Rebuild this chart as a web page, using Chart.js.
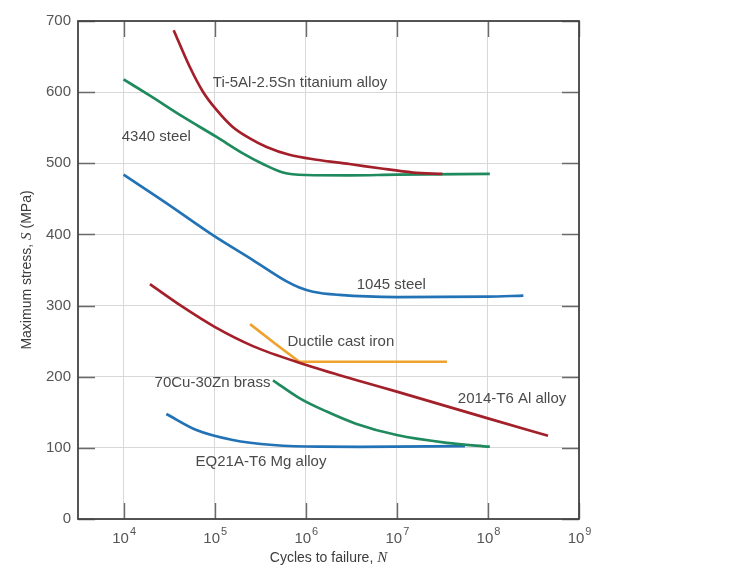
<!DOCTYPE html>
<html>
<head>
<meta charset="utf-8">
<title>S-N curves</title>
<script src="https://cdn.jsdelivr.net/npm/chart.js@4.4.1/dist/chart.umd.min.js"></script>
<style>
  body { margin: 0; background: #fff; }
  #wrap { width: 746px; height: 575px; }
</style>
</head>
<body>
<div id="wrap"><canvas id="mycanvas" width="746" height="575"></canvas></div>
<script>
// cycles to failure (N) and max stress (MPa)
var tiN = [35500, 53100, 74100, 105000, 158000, 243000, 372000, 661000, 1320000, 3020000, 6460000, 15100000, 31600000];
var tiS = [687, 636, 601, 575, 551, 535, 523, 512, 505, 499, 493, 487, 485];

var s4340N = [10000, 19500, 44700, 105000, 204000, 339000, 562000, 1000000, 3020000, 10000000, 105000000];
var s4340S = [618, 595, 565.5, 537, 514, 499, 487, 483.5, 483, 484, 485];

var s1045N = [10000, 29500, 95500, 263000, 617000, 851000, 1200000, 2340000, 10000000, 98000000, 245000000];
var s1045S = [484, 444, 399, 364, 334, 325.5, 319.5, 315, 312, 312.5, 314];

var alN = [19500, 44700, 100000, 263000, 933000, 3890000, 10000000, 100000000, 457000000];
var alS = [330, 298, 270, 243, 218, 194, 179, 141.5, 117];

var ironN = [245000, 479000, 851000, 35500000];
var ironS = [274, 245, 221, 221];

var brassN = [437000, 851000, 1700000, 3550000, 10000000, 35500000, 105000000];
var brassS = [195, 170, 151, 134, 118, 107, 101.6];

var mgN = [29500, 63000, 158000, 437000, 1410000, 3900000, 56000000];
var mgS = [147.6, 125, 111, 104, 101.6, 101.5, 102.5];

// tick values
var xTicks = [1e4, 1e5, 1e6, 1e7, 1e8, 1e9];

// curve labels, anchored in data units (left edge, middle)
var labelText = ['Ti-5Al-2.5Sn titanium alloy', '4340 steel', '1045 steel', 'Ductile cast iron',
                 '70Cu-30Zn brass', 'EQ21A-T6 Mg alloy', '2014-T6 Al alloy'];
var labelN = [95500, 9550, 3630000, 631000, 21900, 61700, 46800000];
var labelS = [613, 537, 329, 249, 191, 80, 169];

var RED = '#a3202a', GREEN = '#1f8a5e', BLUE = '#2272b6', ORANGE = '#f0a22e';

function pts(xs, ys) {
	var out = [];
	for (var i in xs) out.push({ x: xs[i], y: ys[i] });
	return out;
}

function line(label, xs, ys, color, straight) {
	return {
		label: label,
		data: pts(xs, ys),
		borderColor: color,
		borderWidth: 2.7,
		pointRadius: 0,
		fill: false,
		cubicInterpolationMode: straight ? 'default' : 'monotone',
		tension: 0
	};
}

var FONT = '"Liberation Sans", Arial, sans-serif';

var framePlugin = {
	id: 'frame',
	beforeDatasetsDraw: function(chart) {
		var ctx = chart.ctx, a = chart.chartArea;
		var xs = chart.scales.x, ys = chart.scales.y;
		ctx.save();
		ctx.strokeStyle = '#6a6a6a';
		ctx.lineWidth = 1.4;
		ctx.beginPath();
		xTicks.forEach(function(v) {
			var px = Math.round(xs.getPixelForValue(v)) + 0.5;
			ctx.moveTo(px, a.bottom); ctx.lineTo(px, a.bottom - 16);
			ctx.moveTo(px, a.top); ctx.lineTo(px, a.top + 16);
		});
		ys.ticks.forEach(function(t) {
			var py = Math.round(ys.getPixelForValue(t.value)) + 0.5;
			ctx.moveTo(a.left, py); ctx.lineTo(a.left + 17, py);
			ctx.moveTo(a.right, py); ctx.lineTo(a.right - 17, py);
		});
		ctx.stroke();
		ctx.restore();
	},
	afterDatasetsDraw: function(chart) {
		var ctx = chart.ctx, a = chart.chartArea;
		var xs = chart.scales.x, ys = chart.scales.y;
		ctx.save();
		// labels on the curves
		ctx.font = '15px ' + FONT;
		ctx.fillStyle = '#4a4a4a';
		ctx.textAlign = 'left';
		ctx.textBaseline = 'middle';
		for (var i in labelText) {
			ctx.fillText(labelText[i], xs.getPixelForValue(labelN[i]), ys.getPixelForValue(labelS[i]));
		}
		// exponents next to the "10" tick labels
		ctx.font = '15px ' + FONT;
		var baseW = ctx.measureText('10').width;
		ctx.font = '11px ' + FONT;
		ctx.fillStyle = '#555';
		xTicks.forEach(function(v) {
			var e = String(Math.round(Math.log10(v)));
			ctx.fillText(e, xs.getPixelForValue(v) - 3 + baseW / 2 + 1, 532);
		});
		// frame
		ctx.strokeStyle = '#444';
		ctx.lineWidth = 1.8;
		ctx.strokeRect(a.left, a.top, a.right - a.left, a.bottom - a.top);

		// axis titles, with the italic symbol in a serif face
		ctx.fillStyle = '#3c3c3c';
		ctx.textBaseline = 'middle';
		var p1 = 'Cycles to failure, ', sym = 'N';
		ctx.font = '14px ' + FONT;
		var w1 = ctx.measureText(p1).width;
		ctx.font = 'italic 15px "Liberation Serif", serif';
		var w2 = ctx.measureText(sym).width;
		var cx = (a.left + a.right) / 2, x0 = cx - (w1 + w2) / 2;
		ctx.font = '14px ' + FONT;
		ctx.fillText(p1, x0, 558);
		ctx.font = 'italic 15px "Liberation Serif", serif';
		ctx.fillText(sym, x0 + w1, 558);

		var q1 = 'Maximum stress, ', q2 = 'S', q3 = ' (MPa)';
		ctx.font = '14px ' + FONT;
		var a1 = ctx.measureText(q1).width, a3 = ctx.measureText(q3).width;
		ctx.font = 'italic 15px "Liberation Serif", serif';
		var a2 = ctx.measureText(q2).width;
		ctx.translate(27, (a.top + a.bottom) / 2);
		ctx.rotate(-Math.PI / 2);
		var y0 = -(a1 + a2 + a3) / 2;
		ctx.font = '14px ' + FONT;
		ctx.fillText(q1, y0, 0);
		ctx.font = 'italic 15px "Liberation Serif", serif';
		ctx.fillText(q2, y0 + a1, 0);
		ctx.font = '14px ' + FONT;
		ctx.fillText(q3, y0 + a1 + a2, 0);
		ctx.restore();
	}
};

var ctx = document.getElementById('mycanvas');

var chart = new Chart(ctx, {
	type: 'line',
	data: {
		datasets: [
			line('Ti-5Al-2.5Sn titanium alloy', tiN, tiS, RED),
			line('4340 steel', s4340N, s4340S, GREEN),
			line('1045 steel', s1045N, s1045S, BLUE),
			line('2014-T6 Al alloy', alN, alS, RED),
			line('Ductile cast iron', ironN, ironS, ORANGE, true),
			line('70Cu-30Zn brass', brassN, brassS, GREEN),
			line('EQ21A-T6 Mg alloy', mgN, mgS, BLUE)
		]
	},
	options: {
		responsive: false,
		animation: false,
		devicePixelRatio: 1,
		layout: { padding: { top: 21, right: 167, left: 0, bottom: 0 } },
		plugins: {
			legend: { display: false },
			tooltip: { enabled: false }
		},
		scales: {
			x: {
				type: 'logarithmic',
				min: Math.pow(10, 3.5),
				max: 1e9,
				afterBuildTicks: function(scale) {
					scale.ticks = xTicks.map(function(v) { return { value: v }; });
				},
				afterFit: function(scale) { scale.height = 56; },
				border: { display: false },
				grid: { color: '#d8d8d8', lineWidth: 1, drawTicks: false },
				ticks: {
					padding: 11,
					labelOffset: -3,
					maxRotation: 0,
					autoSkip: false,
					color: '#555',
					font: { family: FONT, size: 15 },
					callback: function(v) { return '10'; }
				}
			},
			y: {
				min: 0,
				max: 700,
				afterFit: function(scale) { scale.width = 78; },
				border: { display: false },
				grid: { color: '#d8d8d8', lineWidth: 1, drawTicks: false },
				ticks: {
					stepSize: 100,
					padding: 7,
					color: '#555',
					font: { family: FONT, size: 15 }
				}
			}
		}
	},
	plugins: [framePlugin]
});
</script>
</body>
</html>
